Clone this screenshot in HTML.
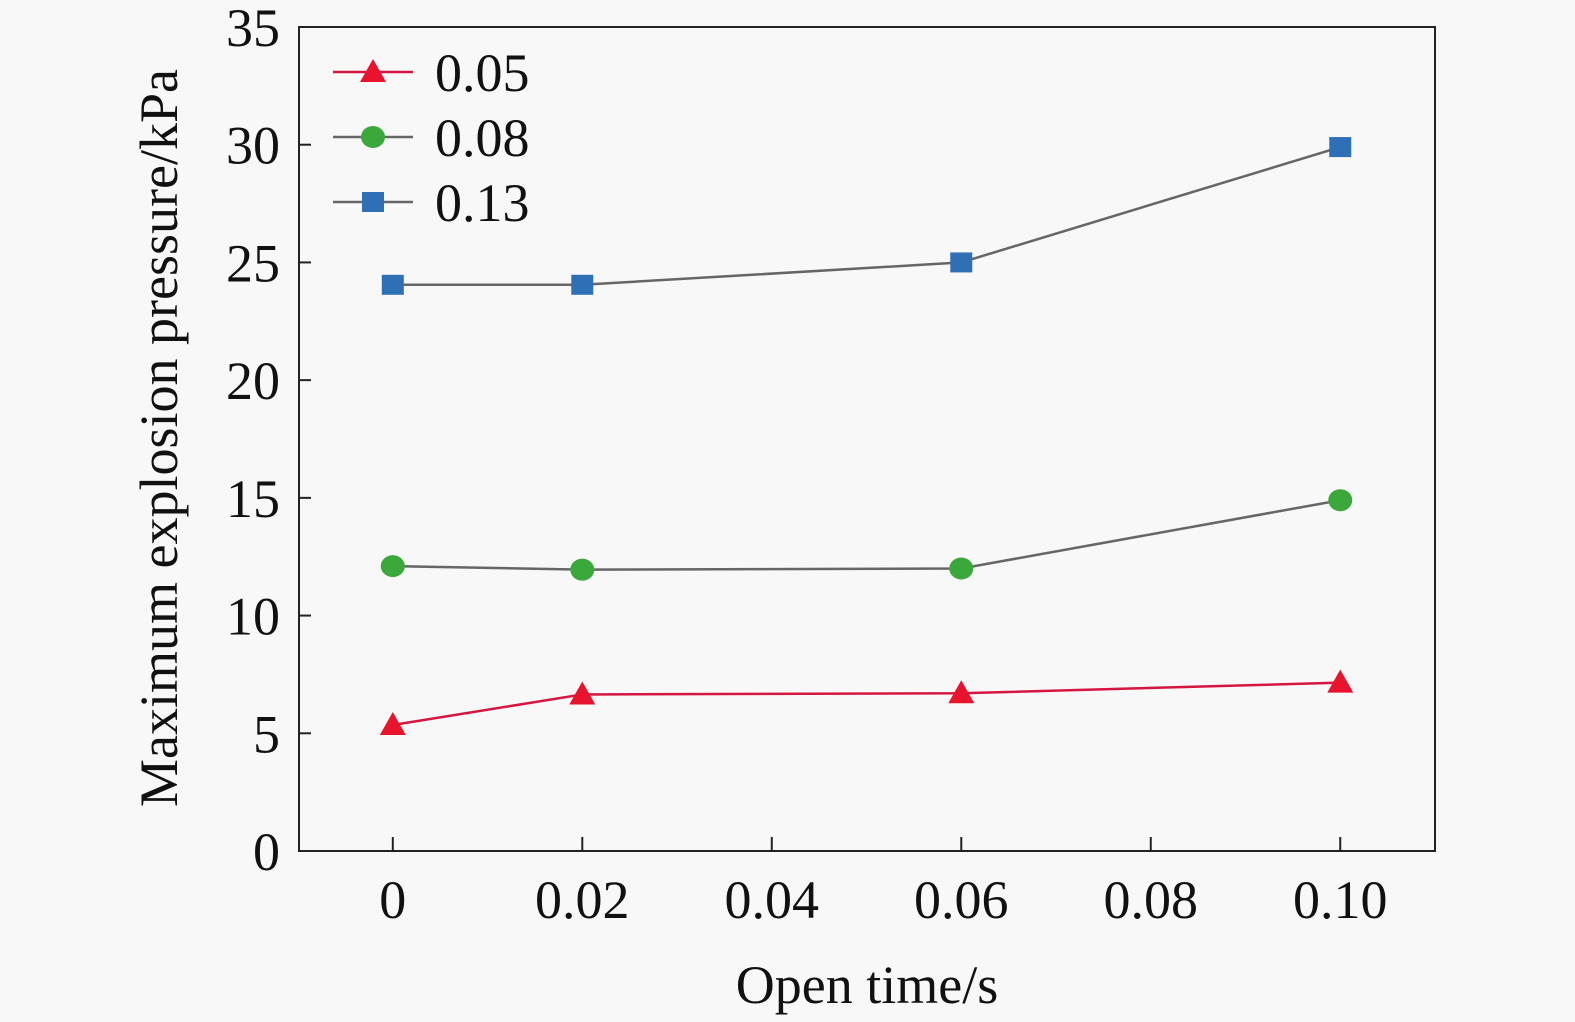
<!DOCTYPE html>
<html><head><meta charset="utf-8"><style>
html,body{margin:0;padding:0;background:#f8f8f8;}
svg{display:block;font-family:"Liberation Serif",serif;}
</style></head><body>
<svg id="chart" width="1575" height="1022" viewBox="0 0 1575 1022">
<rect x="0" y="0" width="1575" height="1022" fill="#f8f8f8"/>
<g id="plot"></g>
</svg>
<script>
const xValues = [0, 0.02, 0.06, 0.10];
const xTicks = [0, 0.02, 0.04, 0.06, 0.08, 0.10];
const xTickLabels = ["0", "0.02", "0.04", "0.06", "0.08", "0.10"];
const yTicks = [0, 5, 10, 15, 20, 25, 30, 35];
const seriesNames = ["0.05", "0.08", "0.13"];
const s005 = [5.35, 6.65, 6.7, 7.15];
const s008 = [12.1, 11.95, 12.0, 14.9];
const s013 = [24.05, 24.05, 25.0, 29.9];

const L=299,R=1435,T=27,B=851;
const xMin=-0.0099,xMax=0.11,yMin=0,yMax=35;
const xs=v=>L+(v-xMin)/(xMax-xMin)*(R-L);
const ys=v=>B-(v-yMin)/(yMax-yMin)*(B-T);
const NS="http://www.w3.org/2000/svg";
const plot=document.getElementById('plot');
function mk(tag,attrs,parent){const e=document.createElementNS(NS,tag);for(const k in attrs)e.setAttribute(k,attrs[k]);(parent||plot).appendChild(e);return e;}
const FS=54;

const frame=mk('rect',{x:L,y:T,width:R-L,height:B-T,fill:'none',stroke:'#222','stroke-width':2});



xTicks.forEach((t,i)=>{
  const ln=mk('line',{x1:xs(t),x2:xs(t),y1:B,y2:B-14,stroke:'#222','stroke-width':2});
  
  
  const tx=mk('text',{x:xs(t),y:918,'text-anchor':'middle','font-size':FS,fill:'#111'});
  tx.textContent=xTickLabels[i];
  
  
});
yTicks.forEach(t=>{
  const ln=mk('line',{x1:L,x2:L+12,y1:ys(t),y2:ys(t),stroke:'#222','stroke-width':2});
  
  
  const tx=mk('text',{x:280,y:ys(t)+19,'text-anchor':'end','font-size':FS,fill:'#111'});
  tx.textContent=String(t);
  
  
});
const xt=mk('text',{x:867,y:1003,'text-anchor':'middle','font-size':FS,fill:'#111'});
xt.textContent='Open time/s';


const yt=mk('text',{x:0,y:0,'text-anchor':'middle','font-size':FS,fill:'#111',transform:'translate(177,438) rotate(-90)'});
yt.textContent='Maximum explosion pressure/kPa';



const series=[s005,s008,s013];
const lineColors=['#d41640','#666','#666'];
const markerColors=['#e8142e','#3aa83a','#2f6fb5'];
const shapes=['tri','circ','sq'];
function marker(shape,x,y,color,parent){
  let e;
  if(shape==='tri') e=mk('polygon',{points:`${x},${y-13} ${x-13},${y+10} ${x+13},${y+10}`,fill:color},parent);
  else if(shape==='circ') e=mk('ellipse',{cx:x,cy:y,rx:12,ry:11,fill:color},parent);
  else e=mk('rect',{x:x-11,y:y-10,width:22,height:20,fill:color},parent);
  return e;
}
series.forEach((s,si)=>{
  const g=mk('g',{});
  
  
  const pl=mk('polyline',{points:s.map((v,i)=>xs(xValues[i])+','+ys(v)).join(' '),fill:'none',stroke:lineColors[si],'stroke-width':2.5},g);
  
  
  s.forEach((v,i)=>{
    const m=marker(shapes[si],xs(xValues[i]),ys(v),markerColors[si],g);
    
    
  });
  const ly=72+si*65;
  const lg=mk('g',{});
  
  
  mk('line',{x1:333,x2:413,y1:ly,y2:ly,stroke:lineColors[si],'stroke-width':2.5},lg);
  marker(shapes[si],373,ly,markerColors[si],lg);
  const lt=mk('text',{x:435,y:ly+19,'font-size':FS,fill:'#111'},lg);
  lt.textContent=seriesNames[si];
});
</script>
</body></html>
